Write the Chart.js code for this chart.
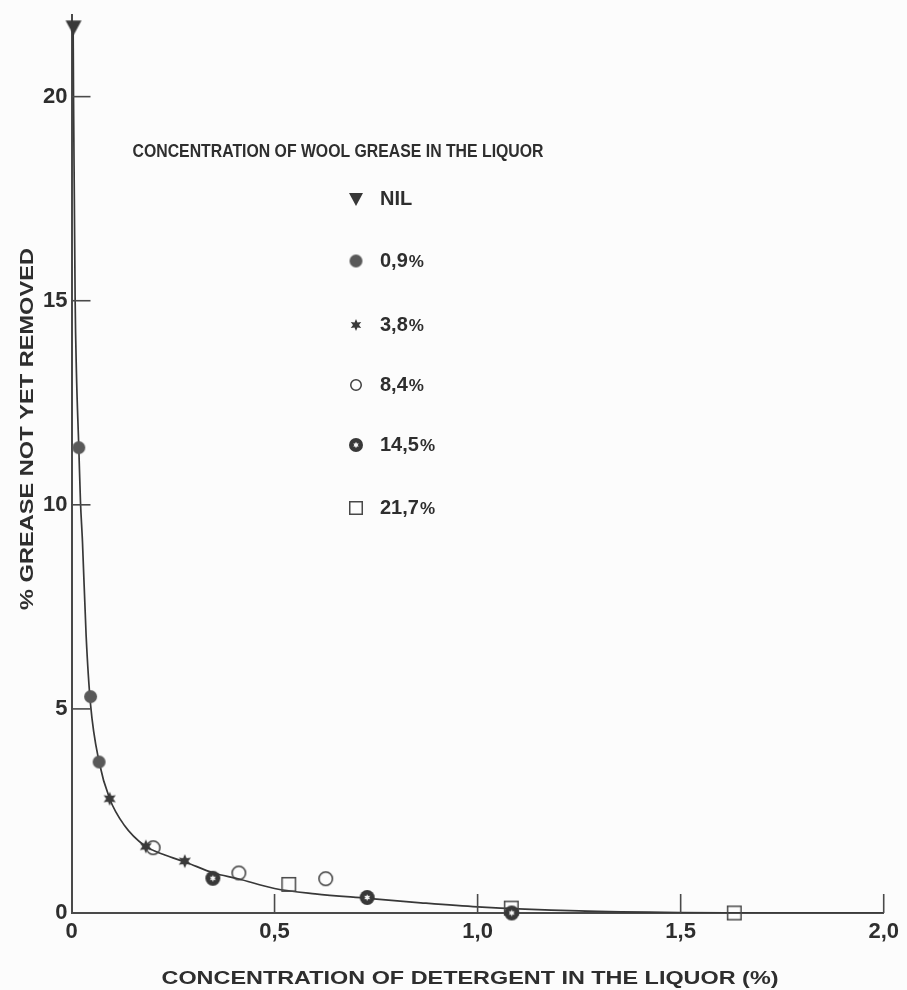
<!DOCTYPE html>
<html>
<head>
<meta charset="utf-8">
<script src="https://cdn.jsdelivr.net/npm/chart.js@4/dist/chart.umd.min.js"></script>
<style>
  html, body { margin: 0; padding: 0; background: #fcfcfc; }
  canvas { display: block; }
</style>
</head>
<body>
<canvas id="chart" width="907" height="990"></canvas>
<script>
// Residual wool grease versus detergent concentration, for several
// concentrations of wool grease already present in the liquor.

const seriesLabels = ['NIL', '0,9%', '3,8%', '8,4%', '14,5%', '21,7%'];

const nilX  = [0.005];
const nilY  = [21.7];
const g09X  = [0.018, 0.047, 0.068];
const g09Y  = [11.4, 5.3, 3.7];
const g38X  = [0.094, 0.183, 0.279];
const g38Y  = [2.8, 1.63, 1.27];
const g84X  = [0.201, 0.412, 0.626];
const g84Y  = [1.6, 0.98, 0.84];
const g145X = [0.348, 0.728, 1.084];
const g145Y = [0.85, 0.38, 0.0];
const g217X = [0.535, 1.083, 1.632];
const g217Y = [0.7, 0.12, 0.0];

// Fitted curve through all the series
const curveX = [0.004, 0.005, 0.007, 0.009, 0.012, 0.018, 0.022, 0.027, 0.036, 0.047, 0.068, 0.094, 0.13, 0.18, 0.23, 0.28, 0.35, 0.41, 0.5, 0.6, 0.73, 0.86, 1.0, 1.25, 1.5, 1.75, 2.0];
const curveY = [21.8, 20.0, 17.5, 15.0, 13.3, 11.4, 10.1, 9.1, 6.8, 5.1, 3.7, 2.8, 2.15, 1.65, 1.42, 1.25, 0.98, 0.84, 0.6, 0.47, 0.36, 0.25, 0.15, 0.05, 0.01, 0.0, 0.0];

const xTickValues = [0, 0.5, 1.0, 1.5, 2.0];
const yTickValues = [0, 5, 10, 15, 20];

const INK = '#2e2e2e';
const AXIS = '#4a4a4a';
const FONT = '"Liberation Sans", Arial, Helvetica, sans-serif';

const pts = (xs, ys) => xs.map((x, i) => ({ x, y: ys[i] }));

function starPath(g, m, rOut, rIn) {
  g.beginPath();
  for (let i = 0; i < 12; i++) {
    const a = -Math.PI / 2 + i * Math.PI / 6;
    const rr = i % 2 ? rIn : rOut;
    g.lineTo(m + rr * Math.cos(a), m + rr * Math.sin(a));
  }
  g.closePath();
}

// Small marker bitmaps used both on the plot and in the key
function makeMarker(kind, s) {
  const pad = 3;
  const c = document.createElement('canvas');
  c.width = c.height = Math.ceil(s + pad * 2);
  const g = c.getContext('2d');
  const m = c.width / 2;
  const r = s / 2;
  if (kind === 'tri') {
    g.fillStyle = '#383838';
    g.beginPath();
    g.moveTo(m - r, m - r * 0.85);
    g.lineTo(m + r, m - r * 0.85);
    g.lineTo(m, m + r);
    g.closePath();
    g.fill();
  } else if (kind === 'dot') {
    g.fillStyle = '#595959';
    g.beginPath(); g.arc(m, m, r, 0, Math.PI * 2); g.fill();
  } else if (kind === 'star') {
    g.fillStyle = '#3a3a3a';
    starPath(g, m, r, r * 0.5);
    g.fill();
  } else if (kind === 'ring') {
    g.strokeStyle = '#3e3e3e'; g.lineWidth = 1.5;
    g.beginPath(); g.arc(m, m, r - 0.75, 0, Math.PI * 2); g.stroke();
  } else if (kind === 'ringstar') {
    g.fillStyle = '#383838';
    g.beginPath(); g.arc(m, m, r, 0, Math.PI * 2); g.fill();
    g.fillStyle = '#f4f4f4';
    starPath(g, m, r * 0.45, r * 0.24);
    g.fill();
  } else if (kind === 'square') {
    g.strokeStyle = '#484848'; g.lineWidth = 1.5;
    g.strokeRect(m - r + 0.75, m - r + 0.75, s - 1.5, s - 1.5);
  }
  return c;
}

const plotMarkers = [
  makeMarker('tri', 16), makeMarker('dot', 13), makeMarker('star', 14),
  makeMarker('ring', 15), makeMarker('ringstar', 15), makeMarker('square', 15)
];
const keyMarkers = [
  makeMarker('tri', 14), makeMarker('dot', 13), makeMarker('star', 12),
  makeMarker('ring', 12), makeMarker('ringstar', 14), makeMarker('square', 14)
];

const seriesData = [
  pts(nilX, nilY), pts(g09X, g09Y), pts(g38X, g38Y),
  pts(g84X, g84Y), pts(g145X, g145Y), pts(g217X, g217Y)
];

const datasets = seriesData.map((d, i) => ({
  label: seriesLabels[i],
  data: d,
  showLine: false,
  clip: false,
  pointStyle: plotMarkers[i],
  pointRadius: 8,
  pointHoverRadius: 8
}));
datasets.push({
  label: 'curve',
  data: pts(curveX, curveY),
  showLine: true,
  borderColor: '#383838',
  borderWidth: 1.7,
  pointRadius: 0,
  cubicInterpolationMode: 'monotone',
  fill: false
});

// Bold text set to a given overall width
function fitText(ctx, text, cx, cy, size, width, rot) {
  ctx.save();
  ctx.font = 'bold ' + size + 'px ' + FONT;
  const w = ctx.measureText(text).width;
  ctx.translate(cx, cy);
  if (rot) ctx.rotate(rot);
  ctx.scale(width / w, 1);
  ctx.textAlign = 'center';
  ctx.textBaseline = 'middle';
  ctx.fillStyle = INK;
  ctx.fillText(text, 0, 0);
  ctx.restore();
}

const decor = {
  id: 'decor',
  beforeDraw(chart) {
    const { ctx } = chart;
    ctx.save();
    ctx.fillStyle = '#fcfcfc';
    ctx.fillRect(0, 0, chart.width, chart.height);
    ctx.restore();
  },
  afterDraw(chart) {
    const { ctx, chartArea, scales: { x, y } } = chart;
    // inward tick marks
    ctx.save();
    ctx.strokeStyle = AXIS;
    ctx.lineWidth = 1.6;
    yTickValues.forEach(v => {
      if (v === 0) return;
      const py = y.getPixelForValue(v);
      ctx.beginPath(); ctx.moveTo(chartArea.left, py); ctx.lineTo(chartArea.left + 19, py); ctx.stroke();
    });
    xTickValues.forEach(v => {
      if (v === 0) return;
      const px = x.getPixelForValue(v);
      ctx.beginPath(); ctx.moveTo(px, chartArea.bottom); ctx.lineTo(px, chartArea.bottom - 19); ctx.stroke();
    });
    ctx.restore();

    // axis titles
    fitText(ctx, 'CONCENTRATION OF DETERGENT IN THE LIQUOR (%)', 470, 979, 19, 617, 0);
    fitText(ctx, '% GREASE NOT YET REMOVED', 28, 429, 19, 362, -Math.PI / 2);

    // key
    fitText(ctx, 'CONCENTRATION OF WOOL GREASE IN THE LIQUOR', 338, 152, 18, 411, 0);
    const rows = [199, 261, 325, 385, 445, 508];
    seriesLabels.forEach((lab, i) => {
      const m = keyMarkers[i];
      ctx.drawImage(m, 356 - m.width / 2, rows[i] - m.width / 2);
      ctx.save();
      ctx.fillStyle = INK;
      ctx.textBaseline = 'middle';
      ctx.textAlign = 'left';
      const num = lab.replace('%', '');
      ctx.font = 'bold 20px ' + FONT;
      ctx.fillText(num, 380, rows[i]);
      if (lab.endsWith('%')) {
        const w = ctx.measureText(num).width;
        ctx.font = 'bold 17px ' + FONT;
        ctx.fillText('%', 380 + w + 1, rows[i] + 1);
      }
      ctx.restore();
    });
  }
};

const tickFont = { family: FONT, size: 22, weight: 'bold', lineHeight: 1 };

new Chart(document.getElementById('chart'), {
  type: 'scatter',
  data: { datasets },
  options: {
    responsive: false,
    animation: false,
    events: [],
    layout: { padding: { top: 11, right: 20.5, bottom: 37, left: 0 } },
    plugins: { legend: { display: false }, tooltip: { enabled: false } },
    scales: {
      x: {
        type: 'linear', min: 0, max: 2,
        afterFit: s => { s.height = 40; },
        afterBuildTicks: s => { s.ticks = xTickValues.map(v => ({ value: v })); },
        grid: { display: false, drawTicks: false },
        border: { display: true, color: AXIS, width: 2 },
        ticks: {
          padding: 8, color: INK, font: tickFont, maxRotation: 0, autoSkip: false,
          callback: v => v === 0 ? '0' : v.toFixed(1).replace('.', ',')
        }
      },
      y: {
        type: 'linear', min: 0, max: 22,
        afterFit: s => { s.width = 71.5; },
        afterBuildTicks: s => { s.ticks = yTickValues.map(v => ({ value: v })); },
        grid: { display: false, drawTicks: false },
        border: { display: true, color: AXIS, width: 2 },
        ticks: {
          padding: 4, color: INK, font: tickFont, autoSkip: false,
          callback: v => String(v)
        }
      }
    }
  },
  plugins: [decor]
});
</script>
</body>
</html>
